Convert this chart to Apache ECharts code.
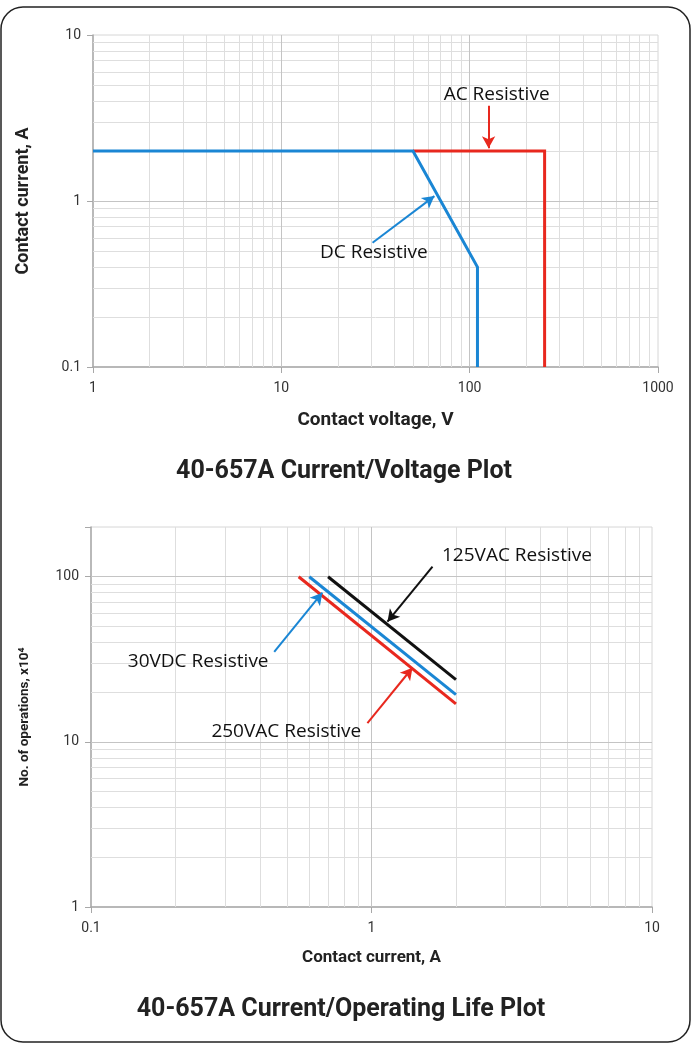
<!DOCTYPE html>
<html><head><meta charset="utf-8">
<script src="https://cdn.jsdelivr.net/npm/echarts@6/dist/echarts.min.js"></script>
<style>html,body{margin:0;padding:0;background:#fff}#c{width:695px;height:1046px}</style>
</head><body><div id="c"></div>
<script>
// ---- Current / Voltage plot data ----
const dcVoltage = [1, 50, 110, 110];
const dcCurrent = [2, 2, 0.4, 0.1];
const acVoltage = [50, 250, 250];
const acCurrent = [2, 2, 0.1];
// ---- Current / Operating life plot data (x10^4 operations) ----
const life250Current = [0.55, 2];
const life250Ops = [100, 17];
const life30Current = [0.6, 2];
const life30Ops = [100, 19.3];
const life125Current = [0.7, 2];
const life125Ops = [100, 23.8];
// ---- axis ranges / labels ----
const topXRange = [1, 1000];
const topYRange = [0.1, 10];
const botXRange = [0.1, 10];
const botYRange = [1, 200];
const titles = ['40-657A Current/Voltage Plot', '40-657A Current/Operating Life Plot'];

const zip = (a, b) => a.map((v, i) => [v, b[i]]);
const isPow10 = v => { const l = Math.log10(v); return Math.abs(l - Math.round(l)) < 1e-6; };
const fmt = v => isPow10(v) ? String(+(+v).toPrecision(6)) : '';
const minorVals = (lo, hi) => { const out = []; for (let e = Math.round(Math.log10(lo)); Math.pow(10, e) < hi; e++) { for (let m = 2; m <= 9; m++) { const v = m * Math.pow(10, e); if (v > lo && v < hi) out.push(+v.toPrecision(6)); } } return out; };
const majorVals = (lo, hi) => { const out = []; for (let e = Math.round(Math.log10(lo)) + 1; Math.pow(10, e) < hi; e++) out.push(Math.pow(10, e)); return out; };

function gridLines(xr, yr) {
  const minorStyle = { color: '#dedede', width: 1, type: 'solid' };
  const majorStyle = { color: '#c4c4c4', width: 1, type: 'solid' };
  const d = [];
  minorVals(xr[0], xr[1]).forEach(v => d.push({ xAxis: v, lineStyle: minorStyle }));
  minorVals(yr[0], yr[1]).forEach(v => d.push({ yAxis: v, lineStyle: minorStyle }));
  majorVals(xr[0], xr[1]).forEach(v => d.push({ xAxis: v, lineStyle: majorStyle }));
  majorVals(yr[0], yr[1]).forEach(v => d.push({ yAxis: v, lineStyle: majorStyle }));
  return d;
}

const axisFont = { fontFamily: 'Roboto', fontSize: 14, color: '#333' };
function mkAxis(gi, range, name, gap, nameSize, isY) {
  return {
    type: 'log', logBase: 10, gridIndex: gi, min: range[0], max: range[1],
    name: name, nameLocation: 'middle', nameGap: gap,
    nameTextStyle: { fontFamily: 'Roboto', fontWeight: 'bold', fontSize: nameSize, color: '#222' },
    axisLine: { show: true, lineStyle: { color: '#a8a8a8', width: 1.5 } },
    axisTick: { show: true, length: 6, lineStyle: { color: '#a8a8a8' } },
    axisLabel: Object.assign({ formatter: fmt, margin: isY ? 12 : 14 }, axisFont),
    splitLine: { show: false }, minorSplitLine: { show: false }
  };
}

function annot(gi, items) {
  return items.map(it => ({
    type: 'line', xAxisIndex: gi, yAxisIndex: gi, data: [], silent: true, z: 20,
    markLine: {
      silent: true, z: 20, symbol: ['none', 'arrow'], symbolSize: [10, 12], animation: false,
      lineStyle: { color: it.color, width: 2, type: 'solid' }, label: { show: false },
      data: [[{ coord: it.from }, { coord: it.to }]]
    },
    markPoint: {
      silent: true, z: 20, symbol: 'circle', symbolSize: 0, animation: false,
      label: { show: true, position: 'inside', formatter: it.text, fontFamily: 'Open Sans', fontSize: 19, color: '#111' },
      data: [{ coord: it.at, value: 0 }]
    }
  }));
}

const lineSeries = (gi, data, color, w) => ({
  type: 'line', xAxisIndex: gi, yAxisIndex: gi, data, showSymbol: false, symbol: 'none',
  lineStyle: { color, width: w, join: 'miter' }, animation: false, z: 10
});

const gridSeries = (gi, xr, yr) => ({
  type: 'line', xAxisIndex: gi, yAxisIndex: gi, data: [], silent: true, z: 1,
  markLine: { silent: true, z: 1, symbol: 'none', animation: false, label: { show: false }, data: gridLines(xr, yr) }
});

const option = {
  animation: false,
  backgroundColor: '#fff',
  grid: [
    { left: 93, top: 35, width: 565, height: 332, show: true, borderColor: '#d6d6d6', borderWidth: 1, backgroundColor: '#fff' },
    { left: 91, top: 527, width: 561, height: 380, show: true, borderColor: '#d6d6d6', borderWidth: 1, backgroundColor: '#fff' }
  ],
  xAxis: [
    mkAxis(0, topXRange, 'Contact voltage, V', 44, 19, false),
    mkAxis(1, botXRange, 'Contact current, A', 42, 17, false)
  ],
  yAxis: [
    mkAxis(0, topYRange, 'Contact current, A', 61, 18, true),
    mkAxis(1, botYRange, 'No. of operations, x10⁴', 59, 13.5, true)
  ],
  series: [
    gridSeries(0, topXRange, topYRange),
    gridSeries(1, botXRange, botYRange),
    lineSeries(0, zip(acVoltage, acCurrent), '#e8281e', 3),
    lineSeries(0, zip(dcVoltage, dcCurrent), '#1a86d4', 3),
    lineSeries(1, zip(life125Current, life125Ops), '#111111', 3),
    lineSeries(1, zip(life30Current, life30Ops), '#1a86d4', 3),
    lineSeries(1, zip(life250Current, life250Ops), '#e8281e', 3),
    ...annot(0, [
      { text: 'AC Resistive', at: [139, 4.4], color: '#e8281e', from: [126, 3.75], to: [126, 2.08] },
      { text: 'DC Resistive', at: [31, 0.49], color: '#1a86d4', from: [30.5, 0.56], to: [65, 1.07] }
    ]),
    ...annot(1, [
      { text: '125VAC Resistive', at: [3.3, 134], color: '#111111', from: [1.65, 115], to: [1.14, 53.4] },
      { text: '30VDC Resistive', at: [0.241, 30.5], color: '#1a86d4', from: [0.45, 35.1], to: [0.668, 80] },
      { text: '250VAC Resistive', at: [0.497, 11.5], color: '#e8281e', from: [0.967, 13.0], to: [1.40, 28.1] }
    ])
  ],
  graphic: [
    { type: 'rect', z: 100, shape: { x: 270, y: 430, width: 210, height: 14 }, style: { fill: '#fff' } },
    { type: 'text', z: 100, x: 344, y: 472, style: { text: titles[0], fontFamily: 'Roboto', fontWeight: 'bold', fontSize: 25, fill: '#222', textAlign: 'center', textVerticalAlign: 'middle' } },
    { type: 'text', z: 100, x: 341, y: 1010, style: { text: titles[1], fontFamily: 'Roboto', fontWeight: 'bold', fontSize: 25, fill: '#222', textAlign: 'center', textVerticalAlign: 'middle' } },
    { type: 'rect', z: 100, shape: { x: 1, y: 7, width: 689, height: 1035, r: 22 }, style: { fill: 'none', stroke: '#222', lineWidth: 1.5 } }
  ]
};
const chart = echarts.init(document.getElementById('c'), null, { renderer: 'canvas' });
chart.setOption(option);
</script></body></html>
